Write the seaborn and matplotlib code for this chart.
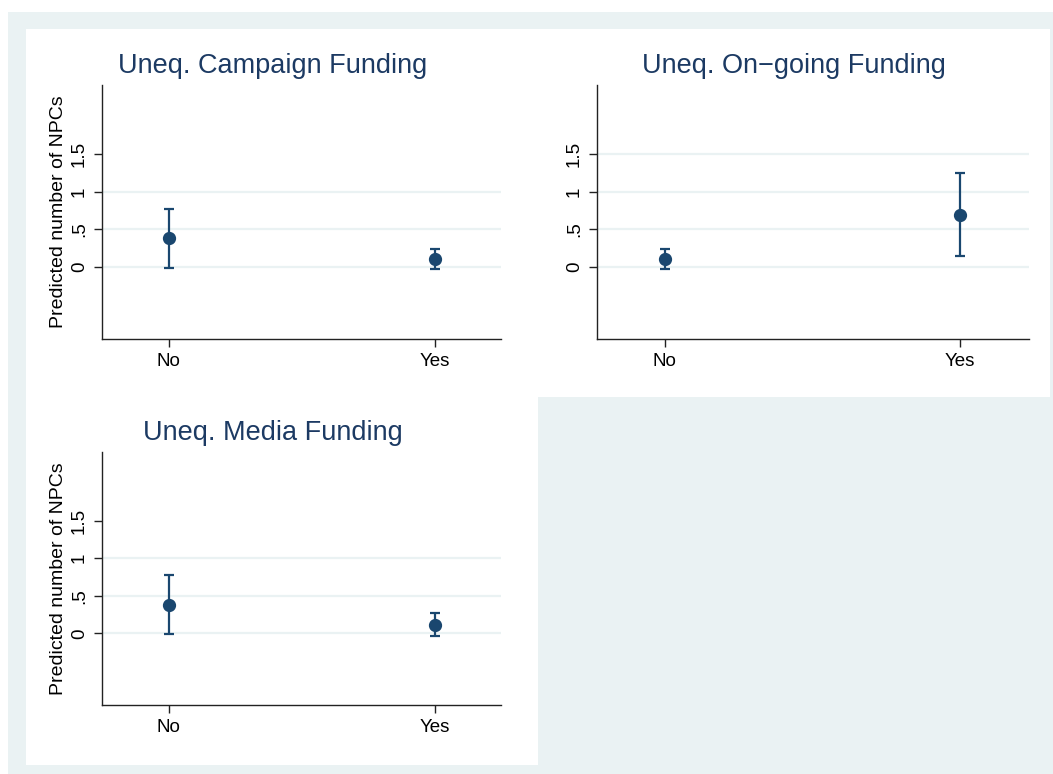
import matplotlib
matplotlib.use("Agg")
import matplotlib.pyplot as plt
from matplotlib.patches import Rectangle
import seaborn as sns
import pandas as pd

# predicted counts with 95% CI
TITLES = ["Uneq. Campaign Funding", "Uneq. On\u2212going Funding", "Uneq. Media Funding"]
LEVELS = ["No", "Yes"]
PRED_NO = [0.38, 0.11, 0.38]
LO_NO = [-0.01, -0.02, -0.01]
HI_NO = [0.775, 0.247, 0.77]
PRED_YES = [0.11, 0.69, 0.11]
LO_YES = [-0.02, 0.145, -0.04]
HI_YES = [0.247, 1.24, 0.267]
YTICKS = [0, 0.5, 1, 1.5]
YTICKLABELS = ["0", ".5", "1", "1.5"]
YLABEL = "Predicted number of NPCs"

BG = "#eaf2f3"
NAVY = "#1a476f"
TITLE_COL = "#1c3a63"

sns.set_theme(style="white")
plt.rcParams["font.family"] = ["Liberation Sans", "DejaVu Sans"]

W, H = 1053, 774
fig = plt.figure(figsize=(W / 100, H / 100), dpi=100)
fig.patch.set_facecolor("white")


def px_rect(x0, y0, x1, y1, color):
    fig.add_artist(Rectangle((x0 / W, 1 - y1 / H), (x1 - x0) / W, (y1 - y0) / H,
                             transform=fig.transFigure, facecolor=color,
                             edgecolor="none", zorder=-10))


# outer graph region and the three white panels
px_rect(8, 12, W, H, BG)
px_rect(26, 29, 538, 397, "white")
px_rect(538, 29, 1050, 397, "white")
px_rect(26, 397, 538, 765, "white")

# axes boxes in pixels: (x0, y0, x1, y1), plus title position
layout = [
    ((102, 85, 501, 339), (-0.25, 1.25), (273, 73), True, [0, 0.5, 1]),
    ((597, 85, 1029, 339), (-0.23, 1.235), (794, 73), False, [0, 0.5, 1, 1.5]),
    ((102, 452, 501, 705), (-0.25, 1.25), (273, 440), True, [0, 0.5, 1]),
]

for i, ((x0, y0, x1, y1), xlim, (tx, ty), show_ylabel, grid_at) in enumerate(layout):
    ax = fig.add_axes([x0 / W, 1 - y1 / H, (x1 - x0) / W, (y1 - y0) / H])
    ax.set_facecolor("white")

    df = pd.DataFrame({
        "level": LEVELS,
        "pred": [PRED_NO[i], PRED_YES[i]],
        "lo": [LO_NO[i], LO_YES[i]],
        "hi": [HI_NO[i], HI_YES[i]],
    })

    for g in grid_at:
        ax.axhline(g, color=BG, lw=1.6, zorder=0)

    ax.errorbar(range(len(df)), df["pred"],
                yerr=[df["pred"] - df["lo"], df["hi"] - df["pred"]],
                fmt="none", ecolor=NAVY, elinewidth=1.6, capsize=3.8,
                capthick=1.6, zorder=2)
    sns.pointplot(data=df, x="level", y="pred", color=NAVY, linestyle="none",
                  errorbar=None, markers="o", markersize=7.5, ax=ax, zorder=3)

    ax.set_xlim(*xlim)
    ax.set_ylim(-0.95, 2.41)
    ax.set_yticks(YTICKS)
    ax.set_yticklabels(YTICKLABELS, rotation=90, va="center")
    ax.set_xlabel("")
    ax.set_ylabel(YLABEL if show_ylabel else "", fontsize=14, color="black", labelpad=3)
    ax.tick_params(axis="both", which="both", direction="out", length=6, width=1,
                   color="#222222", labelsize=13.5, labelcolor="black", pad=4,
                   bottom=True, left=True)
    for side in ["top", "right"]:
        ax.spines[side].set_visible(False)
    for side in ["left", "bottom"]:
        ax.spines[side].set_color("#222222")
        ax.spines[side].set_linewidth(1)

    fig.text(tx / W, 1 - ty / H, TITLES[i], ha="center", va="baseline",
             fontsize=19.5, color=TITLE_COL)

fig.savefig("out.png", dpi=100, facecolor=fig.get_facecolor())
